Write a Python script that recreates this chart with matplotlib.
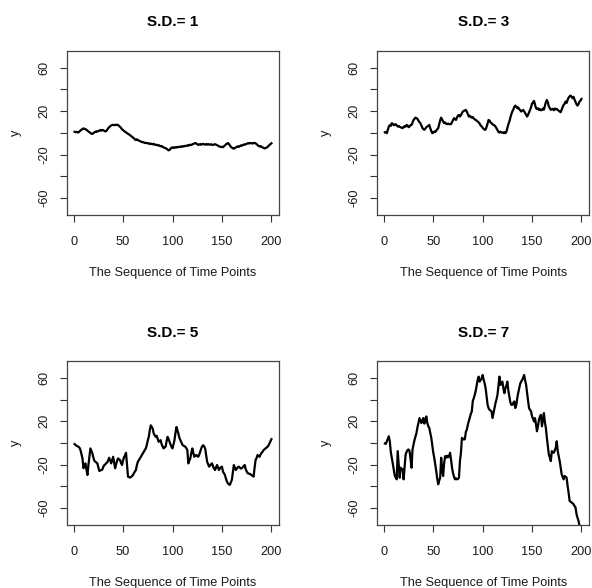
import numpy as np
import matplotlib
matplotlib.use("Agg")
import matplotlib.pyplot as plt

plt.rcParams['font.family'] = ['Liberation Sans', 'DejaVu Sans']

# valores (paseos aleatorios, 200 puntos cada uno)
t = np.arange(1, 201)

sd1 = [1.0, 0.6, 0.9, 0.3, 0.5, 1.4, 2.2, 2.9, 3.6, 4.1,
       3.7, 3.2, 2.9, 2.0, 1.3, 0.6, -0.2, -0.8, -1.0, -0.3,
       0.4, 1.1, 0.8, 1.6, 1.5, 2.1, 2.6, 2.0, 2.7, 2.4,
       1.8, 1.3, 1.6, 2.9, 4.2, 5.3, 6.1, 6.8, 7.2, 7.4,
       7.0, 7.4, 7.2, 7.5, 7.1, 6.4, 5.4, 4.5, 3.2, 2.6,
       1.7, 1.1, 0.4, -0.3, -0.9, -1.4, -2.1, -2.8, -3.6, -4.2,
       -5.0, -6.1, -6.6, -6.0, -6.5, -7.2, -7.6, -7.9, -8.6, -8.4,
       -8.9, -9.3, -9.1, -9.6, -9.4, -9.9, -10.3, -9.8, -10.2, -10.6,
       -10.1, -10.8, -11.2, -10.9, -11.6, -11.3, -11.8, -12.4, -12.1, -12.9,
       -13.3, -13.7, -14.2, -14.6, -15.3, -16.1, -15.8, -14.6, -13.7, -13.4,
       -13.9, -13.3, -13.6, -13.0, -13.4, -12.8, -13.1, -12.6, -12.9, -12.3,
       -12.6, -12.0, -12.3, -11.8, -11.5, -11.9, -11.2, -10.9, -11.3, -10.6,
       -10.2, -9.8, -9.4, -9.8, -10.5, -11.1, -10.7, -10.3, -10.9, -10.5,
       -10.1, -10.6, -10.9, -10.4, -10.8, -10.3, -10.7, -11.0, -10.5, -10.8,
       -11.2, -10.8, -10.4, -10.9, -11.4, -11.8, -12.3, -12.7, -13.1, -12.8,
       -13.2, -12.4, -11.5, -10.6, -9.9, -9.4, -10.2, -11.6, -12.9, -13.6,
       -14.2, -14.6, -13.9, -13.4, -12.8, -12.4, -12.9, -12.2, -11.6, -11.9,
       -11.2, -10.7, -11.0, -10.4, -10.1, -9.6, -9.8, -9.3, -9.6, -9.4,
       -9.8, -9.5, -9.2, -9.7, -10.4, -11.3, -12.1, -12.5, -12.2, -12.9,
       -13.4, -13.8, -14.3, -14.1, -13.6, -13.0, -12.2, -11.1, -10.3, -9.6]

sd3 = [0.5, 0.8, -0.3, 2.6, 5.8, 7.1, 6.4, 8.9, 8.2, 7.0,
       7.6, 8.0, 6.9, 5.8, 6.3, 5.6, 5.1, 4.8, 4.3, 5.4,
       6.2, 5.7, 7.3, 6.6, 5.2, 5.9, 7.1, 7.3, 9.4, 11.8,
       12.9, 14.0, 13.4, 12.9, 11.2, 9.8, 8.9, 6.7, 4.6, 3.4,
       2.8, 3.9, 5.2, 5.8, 6.6, 7.3, 4.2, 1.6, -0.3, 0.1,
       1.2, 0.8, 2.1, 3.3, 4.3, 7.8, 11.6, 14.0, 12.1, 10.4,
       8.9, 9.5, 8.4, 8.0, 8.6, 7.9, 8.2, 8.0, 9.9, 11.7,
       13.5, 12.6, 11.9, 14.2, 15.8, 16.5, 15.0, 16.3, 18.1, 19.6,
       20.2, 20.6, 21.1, 19.4, 17.2, 15.0, 15.8, 14.6, 14.0, 14.5,
       13.2, 12.4, 11.9, 11.2, 10.4, 9.6, 8.4, 6.7, 5.9, 4.6,
       3.7, 2.8, 2.9, 5.6, 8.7, 11.9, 11.2, 9.6, 8.9, 7.8,
       7.3, 6.8, 5.8, 4.1, 2.3, 0.9, 0.3, 1.1, 0.4, 0.3,
       -0.2, 0.6, -0.3, 0.9, 4.2, 7.8, 10.4, 13.6, 17.1, 19.6,
       21.4, 23.8, 25.1, 24.3, 22.7, 23.4, 21.8, 20.9, 19.6, 20.4,
       21.1, 19.8, 18.2, 16.4, 15.0, 16.7, 18.9, 21.1, 23.6, 26.8,
       28.2, 29.4, 26.1, 22.7, 21.9, 22.6, 21.1, 21.8, 20.7, 21.1,
       22.4, 21.3, 24.8, 28.3, 30.3, 28.1, 24.2, 22.6, 21.1, 21.9,
       22.0, 20.8, 22.4, 21.6, 22.1, 21.1, 20.3, 19.6, 19.0, 21.4,
       23.8, 25.7, 26.9, 28.8, 27.6, 30.2, 32.4, 33.6, 34.3, 33.1,
       31.9, 33.2, 30.6, 28.4, 26.3, 25.1, 26.4, 28.8, 29.6, 31.2]

sd5 = [-1.0, -1.8, -2.6, -3.1, -3.5, -4.4, -6.6, -10.2, -14.2, -23.3,
       -20.6, -18.8, -24.5, -29.5, -20.3, -12.6, -5.0, -7.4, -9.6, -13.5,
       -16.4, -17.2, -18.1, -18.8, -22.4, -25.8, -25.3, -24.9, -24.6, -22.1,
       -20.5, -19.7, -18.6, -17.9, -15.8, -13.6, -16.1, -18.8, -15.6, -12.7,
       -17.8, -23.3, -19.6, -16.4, -14.2, -15.1, -15.7, -18.6, -20.3, -16.2,
       -13.1, -11.4, -9.0, -20.5, -31.0, -31.4, -31.9, -31.2, -30.6, -29.5,
       -27.8, -26.2, -24.9, -20.4, -17.2, -15.8, -14.2, -12.5, -11.1, -9.6,
       -8.1, -6.4, -5.0, -1.9, 2.4, 5.7, 11.6, 16.3, 14.8, 13.3,
       8.7, 7.2, 5.7, 6.6, 4.0, 1.1, 1.9, 2.6, -1.1, -3.2,
       -5.0, -4.1, -3.5, 1.6, 5.7, 3.8, 1.1, -1.4, -3.6, -5.0,
       -1.2, 2.6, 9.3, 14.8, 11.8, 8.4, 4.6, 2.6, 0.7, -1.6,
       -2.4, -3.0, -3.5, -4.8, -6.6, -18.8, -16.2, -14.2, -9.1, -5.0,
       -8.8, -12.7, -11.8, -11.1, -11.9, -12.7, -10.8, -8.1, -5.0, -3.1,
       -2.0, -3.2, -5.0, -11.4, -17.2, -19.4, -21.8, -20.6, -19.5, -18.8,
       -21.5, -23.6, -24.9, -22.5, -20.3, -22.6, -24.9, -23.1, -22.4, -21.8,
       -26.4, -28.0, -29.5, -32.8, -35.6, -37.2, -38.1, -38.6, -36.4, -34.0,
       -27.1, -20.3, -22.6, -24.9, -23.7, -22.4, -21.8, -22.7, -23.6, -23.3,
       -22.4, -21.2, -20.3, -24.1, -26.2, -27.9, -28.1, -28.6, -28.8, -29.7,
       -30.4, -31.0, -22.6, -15.7, -13.8, -11.1, -12.0, -12.7, -10.5, -9.2,
       -8.1, -6.6, -5.8, -5.0, -4.1, -3.5, -2.4, -0.4, 1.6, 3.5]

sd7 = [-0.5, -0.8, 1.6, 4.1, 6.2, 1.6, -8.3, -13.4, -18.9, -24.6,
       -30.1, -32.0, -33.5, -7.5, -20.4, -32.0, -22.8, -23.9, -24.3, -33.5,
       -22.1, -10.6, -8.2, -6.4, -6.0, -7.5, -14.6, -22.8, -6.0, -1.4,
       2.8, 6.1, 9.2, 14.6, 18.4, 23.0, 20.6, 18.4, 21.2, 23.0,
       17.9, 21.6, 24.5, 18.2, 15.4, 13.8, 9.3, 4.7, -2.1, -8.8,
       -13.6, -19.4, -25.8, -32.6, -38.1, -34.7, -32.0, -13.6, -24.2, -30.4,
       -18.6, -12.1, -13.6, -11.8, -13.2, -12.1, -9.0, -15.4, -22.8, -27.6,
       -31.2, -33.5, -32.6, -33.5, -33.1, -32.0, -16.7, -9.3, 4.7, 4.1,
       3.2, 3.6, 10.4, 12.3, 16.9, 20.1, 23.0, 26.8, 29.1, 38.6,
       41.3, 44.4, 48.2, 53.5, 58.4, 61.2, 56.6, 58.1, 59.6, 62.7,
       58.4, 55.0, 50.5, 42.6, 35.2, 32.1, 30.6, 29.8, 29.1, 23.0,
       27.4, 32.2, 36.8, 40.2, 44.4, 52.8, 61.2, 53.5, 55.1, 56.6,
       50.3, 45.9, 50.5, 52.8, 56.6, 48.4, 42.8, 37.6, 35.2, 35.2,
       36.9, 38.3, 32.2, 34.8, 41.3, 46.2, 50.5, 54.7, 56.6, 58.1,
       60.4, 62.7, 57.8, 53.5, 45.9, 38.7, 32.2, 30.4, 29.1, 24.5,
       22.4, 19.9, 23.0, 17.2, 10.8, 15.6, 21.5, 24.3, 26.0, 15.4,
       21.8, 27.6, 19.2, 13.8, 4.7, -3.1, -10.6, -13.4, -16.7, -7.5,
       -8.4, -9.0, -6.8, -4.5, 1.6, -7.5, -12.1, -16.7, -22.8, -28.9,
       -31.4, -33.5, -30.4, -31.2, -32.0, -39.6, -45.8, -53.3, -54.1, -54.8,
       -55.6, -56.4, -58.1, -59.4, -65.5, -68.8, -71.6, -76.0, -79.0, -82.0]

series = [sd1, sd3, sd5, sd7]
titulos = ["S.D.= 1", "S.D.= 3", "S.D.= 5", "S.D.= 7"]
xticks = [0, 50, 100, 150, 200]
yticks = [-60, -40, -20, 0, 20, 40, 60]
ylabels = ["-60", "", "-20", "", "20", "", "60"]

# posiciones de los paneles en pixeles (izq, arriba, der, abajo)
W, H = 592, 588
cajas = [(66.7, 50.7, 279.3, 215.0), (377.0, 50.7, 589.3, 215.0),
         (66.7, 361.0, 279.3, 525.0), (377.0, 361.0, 589.3, 525.0)]

fig = plt.figure(figsize=(W / 100, H / 100), dpi=100)
texto = '#1a1a1a'

for i in range(4):
    x0, y0, x1, y1 = cajas[i]
    ax = fig.add_axes([x0 / W, 1 - y1 / H, (x1 - x0) / W, (y1 - y0) / H])
    ax.plot(t, series[i], color='black', lw=1.6)
    ax.set_xlim(1 - 0.04 * 199, 200 + 0.04 * 199)
    ax.set_ylim(-75.6, 75.6)
    ax.set_xticks(xticks)
    ax.set_yticks(yticks)
    ax.set_yticklabels(ylabels, rotation=90, va='center')
    ax.tick_params(axis='both', direction='out', length=5, width=0.8,
                   colors='#333333', labelcolor=texto, labelsize=9.2)
    ax.tick_params(axis='x', pad=10)
    ax.tick_params(axis='y', pad=7)
    for s in ax.spines.values():
        s.set_linewidth(0.9)
        s.set_color('#444444')
    ax.set_title(titulos[i], fontsize=11, fontweight='bold', pad=17.5)
    ax.set_xlabel("The Sequence of Time Points", fontsize=9.2, color=texto, va='top')
    ax.xaxis.set_label_coords(0.5, -0.315)
    ax.set_ylabel("y", fontsize=9.2, color=texto)
    ax.yaxis.set_label_coords(-0.21, 0.5)

fig.savefig("out.png", dpi=100)
